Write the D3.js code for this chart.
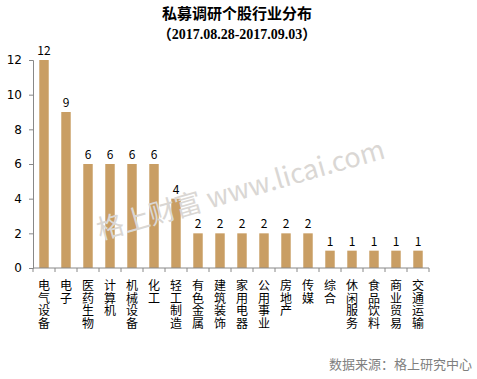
<!DOCTYPE html>
<html>
<head>
<meta charset="utf-8">
<script src="https://cdn.jsdelivr.net/npm/d3@7"></script>
<style>
body { margin: 0; background: #fff; }
svg text { font-family: "Noto Sans CJK SC", "Noto Sans", sans-serif; }
</style>
</head>
<body>
<div id="chart"></div>
<script>
var industries = ["电气设备", "电子", "医药生物", "计算机", "机械设备", "化工", "轻工制造", "有色金属", "建筑装饰",
  "家用电器", "公用事业", "房地产", "传媒", "综合", "休闲服务", "食品饮料", "商业贸易", "交通运输"];
var counts = [12, 9, 6, 6, 6, 6, 4, 2, 2, 2, 2, 2, 2, 1, 1, 1, 1, 1];
var yTicks = [0, 2, 4, 6, 8, 10, 12];

var svgWidth = 477;
var svgHeight = 379;
var margin = { top: 60, right: 48, bottom: 111, left: 33 };
var width = svgWidth - margin.left - margin.right;
var height = svgHeight - margin.top - margin.bottom;

var svg = d3.select("#chart").append("svg")
  .attr("width", svgWidth)
  .attr("height", svgHeight);

// title
svg.append("text")
  .attr("x", 237).attr("y", 19)
  .attr("text-anchor", "middle")
  .attr("font-size", "15px").attr("font-weight", "bold")
  .text("私募调研个股行业分布");
svg.append("text")
  .attr("x", 237).attr("y", 39)
  .attr("text-anchor", "middle")
  .attr("font-size", "14px").attr("font-weight", "bold")
  .style("font-family", "'Liberation Serif', 'Noto Sans CJK SC', serif")
  .text("（2017.08.28-2017.09.03）");

var chartGroup = svg.append("g")
  .attr("transform", `translate(${margin.left}, ${margin.top})`);

var xScale = d3.scaleBand()
  .domain(industries)
  .range([0, width])
  .paddingInner(0.57)
  .paddingOuter(0.285);

var yScale = d3.scaleLinear()
  .domain([0, 12])
  .range([height, 0]);

// watermark
svg.append("text")
  .attr("transform", "translate(100, 240) rotate(-16)")
  .attr("font-size", "27px")
  .attr("fill", "#dad7d4")
  .text("格上财富  www.licai.com");

chartGroup.selectAll("rect")
  .data(counts)
  .enter()
  .append("rect")
  .attr("x", (d, i) => xScale(industries[i]))
  .attr("y", d => yScale(d))
  .attr("width", xScale.bandwidth())
  .attr("height", d => height - yScale(d))
  .attr("fill", "#c99e64");

chartGroup.selectAll(".val")
  .data(counts)
  .enter()
  .append("text")
  .attr("class", "val")
  .attr("x", (d, i) => xScale(industries[i]) + xScale.bandwidth() / 2)
  .attr("y", d => yScale(d) - 5)
  .attr("text-anchor", "middle")
  .attr("font-size", "12px")
  .attr("fill", "#000")
  .text(d => d);

// y axis
var leftAxis = d3.axisLeft(yScale).tickValues(yTicks).tickSize(4).tickPadding(7);
var yAxisG = chartGroup.append("g").call(leftAxis);
yAxisG.select(".domain").attr("stroke", "#888");
yAxisG.selectAll(".tick line").attr("stroke", "#888");
yAxisG.selectAll("text").attr("font-size", "12px").attr("fill", "#000")
  .style("font-family", "'DejaVu Sans', sans-serif");

// x axis
var xAxisG = chartGroup.append("g").attr("transform", `translate(0, ${height})`);
xAxisG.append("line")
  .attr("x1", 0).attr("x2", width)
  .attr("y1", 0).attr("y2", 0)
  .attr("stroke", "#888");
var step = xScale.step();
xAxisG.selectAll(".xtick")
  .data(d3.range(industries.length + 1))
  .enter()
  .append("line")
  .attr("class", "xtick")
  .attr("x1", i => i * step).attr("x2", i => i * step)
  .attr("y1", 0).attr("y2", 4)
  .attr("stroke", "#888");

// vertical category labels: one character per line
industries.forEach(function(name) {
  var cx = xScale(name) + xScale.bandwidth() / 2;
  name.split("").forEach(function(ch, j) {
    xAxisG.append("text")
      .attr("x", cx)
      .attr("y", 22 + j * 12.7)
      .attr("text-anchor", "middle")
      .attr("font-size", "12px")
      .attr("fill", "#000")
      .text(ch);
  });
});

// footer
svg.append("text")
  .attr("x", 472).attr("y", 369)
  .attr("text-anchor", "end")
  .attr("font-size", "13px")
  .attr("fill", "#7f7f7f")
  .text("数据来源：格上研究中心");
</script>
</body>
</html>
